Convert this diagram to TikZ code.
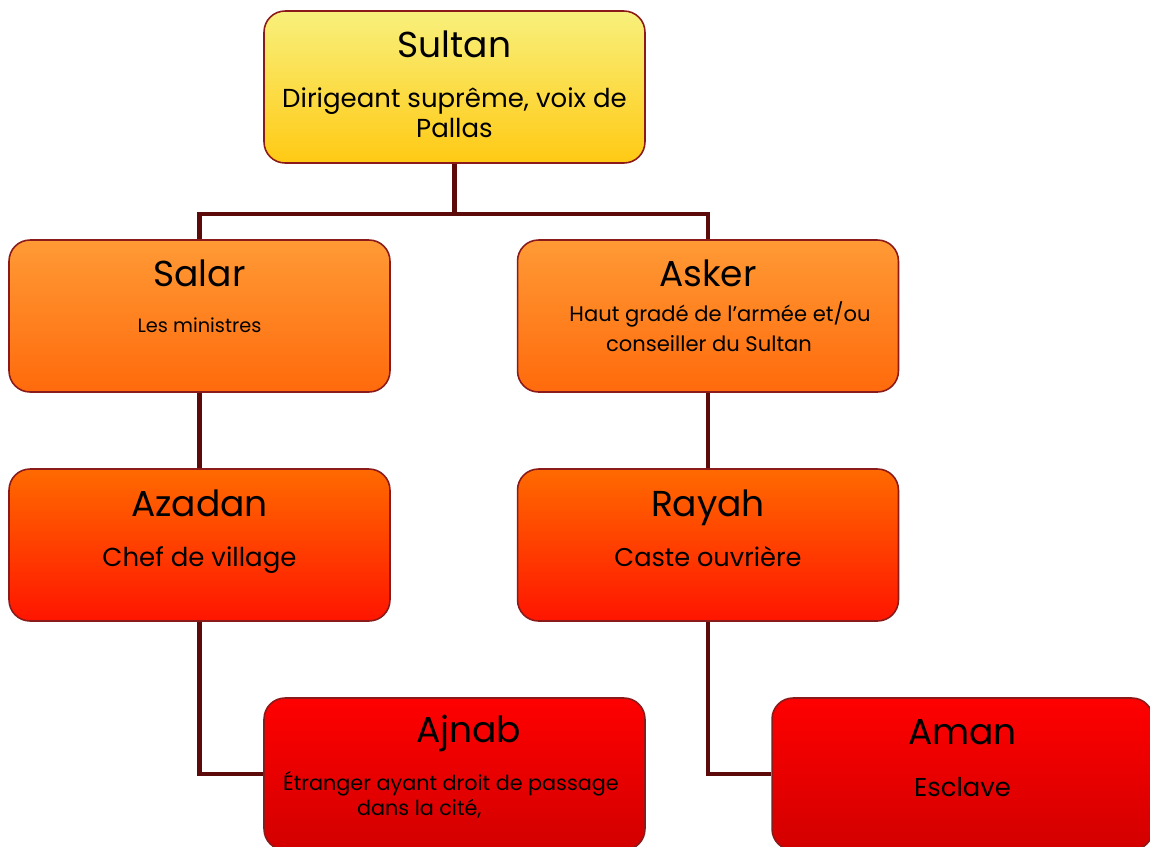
\documentclass[tikz,border=0pt]{standalone}
\usepackage{fontspec}
\setmainfont{Poppins}
\usetikzlibrary{calc,positioning}
\definecolor{linkbrown}{HTML}{5C0A0A}
\definecolor{edgered}{HTML}{8B1A1A}
\definecolor{goldtop}{HTML}{F8F07C}
\definecolor{goldbot}{HTML}{FFCA14}
\definecolor{ambertop}{HTML}{FF9A35}
\definecolor{amberbot}{HTML}{FF6A0C}
\definecolor{flametop}{HTML}{FF6A00}
\definecolor{flamebot}{HTML}{FF1500}
\definecolor{bloodtop}{HTML}{FF0000}
\definecolor{bloodbot}{HTML}{D20000}

\begin{document}
\begin{tikzpicture}[
  x=0.02cm, y=-0.02cm,
  rank/.style={rectangle, draw=edgered, line width=0.9pt, rounded corners=0.42cm, minimum width=7.62cm, minimum height=3.04cm, inner sep=0pt},
  rankname/.style={anchor=base, inner sep=0pt, font=\fontsize{20.5}{24}\selectfont},
  rankdesc/.style={anchor=base, inner sep=0pt, align=center},
  link/.style={draw=linkbrown, line width=2.8pt}
]
  \clip (0,0) rectangle (1150,846);

  \node[rank, top color=goldtop, bottom color=goldbot] (sultan) at (454.5,87) {};
  \node[rank, top color=ambertop, bottom color=amberbot] (salar) at (199.5,316) {};
  \node[rank, top color=ambertop, bottom color=amberbot] (asker) at (708,316) {};
  \node[rank, top color=flametop, bottom color=flamebot] (azadan) at (199.5,545) {};
  \node[rank, top color=flametop, bottom color=flamebot] (rayah) at (708,545) {};
  \node[rank, top color=bloodtop, bottom color=bloodbot] (ajnab) at (454.5,774) {};
  \node[rank, top color=bloodtop, bottom color=bloodbot] (aman) at (962.5,774) {};

  % titles and descriptions (base = last line for two-line texts)
  \node[rankname] (sultan-name) at ($(sultan.north)+(0,47)$) {Sultan};
  \node[rankdesc, font=\fontsize{14.8}{17}\selectfont] (sultan-desc) at ($(sultan.north)+(0,127)$) {Dirigeant suprême, voix de\\Pallas};
  \node[rankname] (salar-name) at ($(salar.north)+(0,47)$) {Salar};
  \node[rankdesc, font=\fontsize{11}{13}\selectfont] (salar-desc) at ($(salar.north)+(0,93)$) {Les ministres};
  \node[rankname] (asker-name) at ($(asker.north)+(0,47)$) {Asker};
  \node[rankdesc, font=\fontsize{12}{17}\selectfont] (asker-desc) at ($(asker.north)+(1,112)$) {\hspace*{12.5pt}Haut gradé de l’armée et/ou\\conseiller du Sultan};
  \node[rankname] (azadan-name) at ($(azadan.north)+(0,48)$) {Azadan};
  \node[rankdesc, font=\fontsize{14.8}{17}\selectfont] (azadan-desc) at ($(azadan.north)+(0,98)$) {Chef de village};
  \node[rankname] (rayah-name) at ($(rayah.north)+(0,48)$) {Rayah};
  \node[rankdesc, font=\fontsize{14.6}{17}\selectfont] (rayah-desc) at ($(rayah.north)+(0,98)$) {Caste ouvrière};
  \node[rankname] (ajnab-name) at ($(ajnab.north)+(14,45)$) {Ajnab};
  \node[rankdesc, font=\fontsize{11.8}{14.2}\selectfont] (ajnab-desc) at ($(ajnab.north)+(-3.5,118)$) {Étranger ayant droit de passage\\dans la cité,\hspace*{36pt}};
  \node[rankname] (aman-name) at ($(aman.north)+(0,47)$) {Aman};
  \node[rankdesc, font=\fontsize{14.7}{17}\selectfont] (aman-desc) at ($(aman.north)+(0,99)$) {Esclave};

  % tree links
  \coordinate (split) at (454.5,214);
  \draw[link] (sultan.south) -- (split);
  \draw[link] (split) -| (salar.north);
  \draw[link] (split) -| (asker.north);
  \draw[link] (salar.south) -- (azadan.north);
  \draw[link] (asker.south) -- (rayah.north);
  \draw[link] (azadan.south) |- (ajnab.west);
  \draw[link] (rayah.south) |- (aman.west);
\end{tikzpicture}
\end{document}
